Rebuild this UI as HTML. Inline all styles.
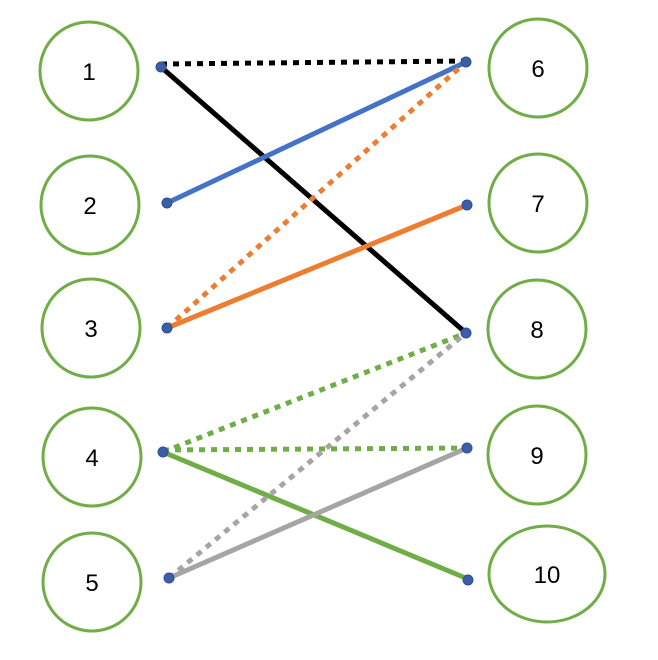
<!DOCTYPE html>
<html><head><style>html,body{margin:0;padding:0;background:#fff}</style></head><body>
<svg width="658" height="655" viewBox="0 0 658 655" xmlns="http://www.w3.org/2000/svg" font-family="Liberation Sans, sans-serif" font-size="24">
<g fill="none" stroke="#70ad47" stroke-width="3">
<circle cx="89" cy="71" r="49"/><circle cx="90" cy="205" r="49"/><circle cx="91" cy="328" r="49"/><circle cx="92" cy="457" r="49"/><circle cx="92" cy="582" r="49"/>
<circle cx="538" cy="68" r="49"/><circle cx="538" cy="203" r="49"/><circle cx="537" cy="329" r="49"/><circle cx="537" cy="455" r="49"/><ellipse cx="547" cy="574" rx="58" ry="48"/>
</g>
<g text-anchor="middle" fill="#000">
<text x="89" y="80">1</text><text x="90" y="214">2</text><text x="91" y="337">3</text><text x="92" y="466">4</text><text x="92" y="591">5</text>
<text x="538" y="77">6</text><text x="538" y="212">7</text><text x="537" y="338">8</text><text x="537" y="464">9</text><text x="547" y="583">10</text>
</g>
<g stroke-width="5" fill="none">
<line x1="161" y1="64" x2="466" y2="61" stroke="#000" stroke-dasharray="6,6"/>
<line x1="161" y1="67" x2="466" y2="333" stroke="#000"/>
<line x1="167" y1="203" x2="466" y2="62" stroke="#4472c4"/>
<line x1="167" y1="328" x2="466" y2="62" stroke="#ed7d31" stroke-dasharray="6,6"/>
<line x1="167" y1="328" x2="467" y2="205" stroke="#ed7d31"/>
<line x1="163" y1="452" x2="466" y2="333" stroke="#70ad47" stroke-dasharray="6,6"/>
<line x1="163" y1="450" x2="467" y2="448" stroke="#70ad47" stroke-dasharray="6,6"/>
<line x1="163" y1="452" x2="468" y2="579" stroke="#70ad47"/>
<line x1="169" y1="578" x2="466" y2="333" stroke="#a5a5a5" stroke-dasharray="6,6"/>
<line x1="169" y1="578" x2="467" y2="448" stroke="#a5a5a5"/>
</g>
<g fill="#3a5ea8" stroke="#2f4f8f" stroke-width="1">
<circle cx="161" cy="67" r="5"/><circle cx="167" cy="203" r="5"/><circle cx="167" cy="328" r="5"/><circle cx="163" cy="452" r="5"/><circle cx="169" cy="578" r="5"/>
<circle cx="466" cy="62" r="5"/><circle cx="467" cy="205" r="5"/><circle cx="466" cy="333" r="5"/><circle cx="467" cy="448" r="5"/><circle cx="468" cy="580" r="5"/>
</g>
</svg>
</body></html>
